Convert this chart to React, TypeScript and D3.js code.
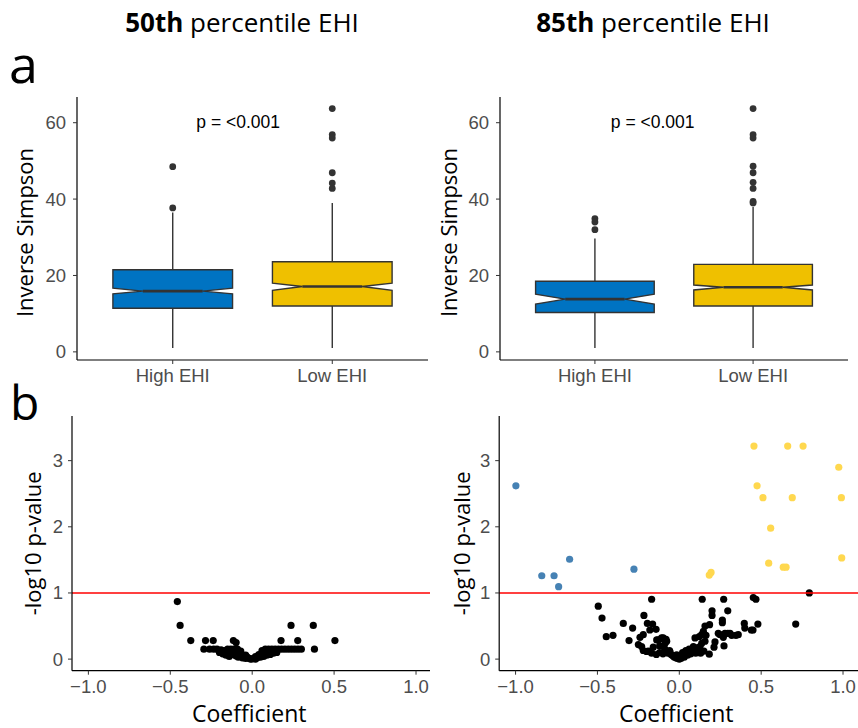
import * as d3 from "d3";

const GROUPS = ["High EHI", "Low EHI"];
const BOX_FILL = ["#0073C2", "#EFC000"];
const TITLES = ["50th", "85th"];

// [whiskerLow, lower, notchLow, median, notchHigh, upper, whiskerHigh]
const box50High = [1.0, 11.4, 15.2, 15.9, 16.7, 21.5, 36.5];
const box50Low = [1.0, 12.0, 16.1, 17.1, 18.0, 23.6, 39.0];
const box85High = [1.0, 10.3, 12.5, 13.8, 15.1, 18.5, 29.7];
const box85Low = [1.0, 12.0, 16.2, 16.9, 17.5, 22.9, 38.0];

const out50High = [48.5, 37.7];
const out50Low = [63.7, 56.9, 56.0, 46.9, 44.2, 42.8];
const out85High = [34.9, 34.0, 32.0];
const out85Low = [63.7, 56.9, 56.0, 48.6, 46.9, 44.4, 42.8, 39.4, 39.0];

const BOX_Y_TICKS = [0, 20, 40, 60];
const VOLC_Y_TICKS = [0, 1, 2, 3];
const VOLC_X_TICKS = [-1, -0.5, 0, 0.5, 1];
const SIG_LINE = 1;

// coefficient, -log10 p
const volc50 = [
  [-0.457, 0.87], [-0.44, 0.51], [-0.375, 0.28], [-0.285, 0.28], [-0.238, 0.28], [-0.115, 0.28], [-0.098, 0.25],
  [-0.295, 0.15], [-0.26, 0.15], [-0.235, 0.15], [-0.215, 0.15], [-0.19, 0.14], [-0.17, 0.13], [-0.15, 0.15],
  [-0.13, 0.15], [-0.11, 0.15], [-0.09, 0.15], [-0.07, 0.12], [-0.2, 0.1], [-0.18, 0.08], [-0.16, 0.06],
  [-0.14, 0.04], [-0.12, 0.07], [-0.1, 0.05], [-0.085, 0.03], [-0.07, 0.06], [-0.06, 0.02], [-0.05, 0.04],
  [-0.04, 0.01], [-0.03, 0.03], [-0.02, 0.01], [-0.01, 0.0], [0.0, 0.005], [0.01, 0.01], [0.02, 0.0],
  [0.03, 0.02], [0.04, 0.04], [0.05, 0.03], [0.06, 0.06], [0.07, 0.04], [0.08, 0.08], [0.09, 0.06],
  [0.1, 0.1], [0.11, 0.07], [0.12, 0.12], [0.13, 0.09], [0.14, 0.12], [0.15, 0.1], [0.06, 0.13],
  [0.08, 0.15], [0.1, 0.15], [0.12, 0.15], [0.14, 0.15], [0.16, 0.15], [0.18, 0.15], [0.2, 0.15],
  [0.22, 0.15], [0.24, 0.15], [0.26, 0.15], [0.28, 0.15], [0.3, 0.15], [0.176, 0.28], [0.278, 0.28],
  [0.505, 0.28], [0.237, 0.51], [0.373, 0.51], [0.38, 0.15], [-0.165, 0.1], [-0.145, 0.11],
  [-0.125, 0.09], [-0.105, 0.1], [-0.08, 0.09], [-0.04, 0.06], [0.02, 0.04], [0.04, 0.07], [0.07, 0.1],
];

const volc85 = [
  [0.794, 1.0], [0.711, 0.53], [0.48, 0.53], [0.452, 0.93], [0.468, 0.905], [0.271, 0.905], [0.14, 0.905],
  [-0.169, 0.905], [-0.495, 0.8], [-0.472, 0.62], [0.296, 0.73], [0.2, 0.73], [0.2, 0.66], [0.397, 0.54],
  [0.44, 0.44], [0.4, 0.47], [0.45, 0.44], [-0.342, 0.54], [-0.285, 0.47], [-0.216, 0.66], [-0.195, 0.54],
  [-0.163, 0.53], [-0.142, 0.45], [-0.18, 0.44], [-0.446, 0.34], [-0.405, 0.36], [-0.307, 0.28],
  [-0.24, 0.33], [-0.22, 0.37], [-0.25, 0.22], [-0.23, 0.19], [-0.22, 0.13], [-0.19, 0.12], [-0.159, 0.18],
  [-0.138, 0.29], [-0.104, 0.31], [-0.081, 0.3], [-0.128, 0.29], [-0.098, 0.32], [-0.077, 0.27],
  [-0.108, 0.32], [-0.087, 0.24], [0.147, 0.42], [0.157, 0.5], [0.185, 0.52], [0.163, 0.36], [0.263, 0.59],
  [0.263, 0.55], [0.238, 0.39], [0.269, 0.33], [0.296, 0.39], [0.32, 0.36], [0.346, 0.36], [0.36, 0.37],
  [0.249, 0.37], [0.279, 0.39], [0.31, 0.39], [0.273, 0.2], [0.212, 0.18], [0.218, 0.26], [0.183, 0.075],
  [0.086, 0.19], [0.106, 0.17], [0.126, 0.19], [0.096, 0.32], [0.122, 0.34], [0.137, 0.37], [0.137, 0.24],
  [0.157, 0.27], [0.02, 0.1], [0.04, 0.13], [0.06, 0.15], [0.1, 0.09], [0.13, 0.09], [-0.06, 0.13],
  [-0.09, 0.16], [-0.12, 0.2], [-0.1, 0.08], [-0.14, 0.07], [-0.057, 0.115], [-0.016, 0.065], [0.015, 0.04],
  [0.045, 0.09], [0.076, 0.115], [0.106, 0.14], [-0.04, 0.05], [-0.03, 0.03], [-0.02, 0.02], [-0.01, 0.01],
  [0.0, 0.0], [0.01, 0.01], [0.03, 0.03], [0.05, 0.06], [0.07, 0.08], [-0.07, 0.09], [-0.05, 0.07],
  [0.06, 0.1], [0.09, 0.12], [-0.2, 0.115], [-0.169, 0.09], [-0.12, 0.1], [0.12, 0.1], [0.15, 0.12],
];
const volc85Down = [
  [-0.998, 2.62], [-0.84, 1.26], [-0.765, 1.26], [-0.737, 1.095], [-0.67, 1.51], [-0.277, 1.36],
];
const volc85Up = [
  [0.456, 3.22], [0.662, 3.22], [0.756, 3.22], [0.974, 2.9], [0.475, 2.62], [0.511, 2.44], [0.69, 2.44],
  [0.99, 2.44], [0.558, 1.98], [0.992, 1.53], [0.546, 1.45], [0.635, 1.39], [0.652, 1.39], [0.183, 1.27],
  [0.194, 1.31],
];

const TICK_FONT = "'Liberation Sans', Arial, sans-serif";
const LABEL_FONT = "'Open Sans', 'Noto Sans', sans-serif";
const fmtX = (v: number) => v.toFixed(1).replace("-", "\u2212");

const BoxPanel = ({ left, right, top, bottom, stats, outliers, pX, labelX }: any) => {
  const y = d3.scaleLinear().domain([-2.13, 66.73]).range([bottom, top]);
  const x = d3.scalePoint().domain(GROUPS).range([left, right]).padding(0.6);
  const hw = (x.step() * 0.75) / 2;

  return (
    <g>
      {GROUPS.map((g, i) => {
        const [wl, lo, nl, med, nh, up, wh] = stats[i];
        const cx = x(g)!;
        const x0 = cx - hw;
        const x1 = cx + hw;
        const inset = hw / 2;
        const path = d3.path();
        path.moveTo(x0, y(up));
        path.lineTo(x1, y(up));
        path.lineTo(x1, y(nh));
        path.lineTo(x1 - inset, y(med));
        path.lineTo(x1, y(nl));
        path.lineTo(x1, y(lo));
        path.lineTo(x0, y(lo));
        path.lineTo(x0, y(nl));
        path.lineTo(x0 + inset, y(med));
        path.lineTo(x0, y(nh));
        path.closePath();
        return (
          <g key={g}>
            <line x1={cx} x2={cx} y1={y(up)} y2={y(wh)} stroke="#333" strokeWidth={1.4} />
            <line x1={cx} x2={cx} y1={y(lo)} y2={y(wl)} stroke="#333" strokeWidth={1.4} />
            <path d={path.toString()} fill={BOX_FILL[i]} stroke="#333" strokeWidth={1.4} />
            <line x1={x0 + inset} x2={x1 - inset} y1={y(med)} y2={y(med)} stroke="#333" strokeWidth={2.6} />
            {outliers[i].map((v: number, j: number) => (
              <circle key={j} cx={cx} cy={y(v)} r={3.4} fill="#333" />
            ))}
          </g>
        );
      })}
      {/* axes */}
      <line x1={left} x2={left} y1={top} y2={bottom} stroke="black" strokeWidth={1.2} />
      <line x1={left} x2={right} y1={bottom} y2={bottom} stroke="black" strokeWidth={1.2} />
      {BOX_Y_TICKS.map((t) => (
        <g key={t}>
          <line x1={left - 4} x2={left} y1={y(t)} y2={y(t)} stroke="#333" />
          <text x={left - 11} y={y(t)} dy="0.35em" textAnchor="end" fontSize={18.5}
            fontFamily={TICK_FONT} fill="#4D4D4D">{t}</text>
        </g>
      ))}
      {GROUPS.map((g) => (
        <g key={g}>
          <line x1={x(g)} x2={x(g)} y1={bottom} y2={bottom + 4} stroke="#333" />
          <text x={x(g)} y={bottom + 21.5} textAnchor="middle" fontSize={18.5}
            fontFamily={TICK_FONT} fill="#4D4D4D">{g}</text>
        </g>
      ))}
      <text x={left + (pX - 0.4) * x.step()} y={y(58.7)} textAnchor="middle" fontSize={17.5}
        fontFamily={TICK_FONT} fill="black">p = &lt;0.001</text>
      <text transform={`translate(${labelX},${(top + bottom) / 2 + 4}) rotate(-90)`} textAnchor="middle"
        fontSize={22} fontFamily={LABEL_FONT} fill="black">Inverse Simpson</text>
    </g>
  );
};

const VolcanoPanel = ({ left, right, clipRight, top, bottom, points, down, up, labelX }: any) => {
  const x = d3.scaleLinear().domain([-1.1, 1.1]).range([left, right]);
  const y = d3.scaleLinear().domain([-0.175, 3.675]).range([bottom, top]);
  const axisRight = Math.min(right, clipRight);
  const dots = (arr: number[][], color: string) =>
    arr.map(([cx, cy], i) => <circle key={color + i} cx={x(cx)} cy={y(cy)} r={3.6} fill={color} />);

  return (
    <g>
      {dots(points, "black")}
      {dots(down, "#4682B4")}
      {dots(up, "#FFD84F")}
      <line x1={left} x2={axisRight} y1={y(SIG_LINE)} y2={y(SIG_LINE)} stroke="#FF0000" strokeWidth={1.6} />
      <line x1={left} x2={left} y1={top} y2={bottom} stroke="black" strokeWidth={1.2} />
      <line x1={left} x2={axisRight} y1={bottom} y2={bottom} stroke="black" strokeWidth={1.2} />
      {VOLC_Y_TICKS.map((t) => (
        <g key={t}>
          <line x1={left - 4} x2={left} y1={y(t)} y2={y(t)} stroke="#333" />
          <text x={left - 9} y={y(t)} dy="0.35em" textAnchor="end" fontSize={18.5}
            fontFamily={TICK_FONT} fill="#4D4D4D">{t}</text>
        </g>
      ))}
      {VOLC_X_TICKS.map((t) => (
        <g key={t}>
          <line x1={x(t)} x2={x(t)} y1={bottom} y2={bottom + 4} stroke="#333" />
          <text x={x(t)} y={bottom + 22.5} textAnchor="middle" fontSize={18.5}
            fontFamily={TICK_FONT} fill="#4D4D4D">{fmtX(t)}</text>
        </g>
      ))}
      <text x={x(0) - 3} y={722} textAnchor="middle" fontSize={23} fontFamily={LABEL_FONT}
        fill="black">Coefficient</text>
      <text transform={`translate(${labelX},${(top + bottom) / 2}) rotate(-90)`} textAnchor="middle"
        fontSize={22} fontFamily={LABEL_FONT} fill="black">-log10 p-value</text>
    </g>
  );
};

export default function App() {
  const titleX = [242, 653];
  return (
    <svg width={858} height={728} style={{ position: "absolute", left: 0, top: 0, background: "white" }}>
      {TITLES.map((t, i) => (
        <text key={t} x={titleX[i]} y={31.5} textAnchor="middle" fontSize={26} fontFamily={LABEL_FONT}
          fill="black">
          <tspan fontWeight="bold">{t}</tspan> percentile EHI
        </text>
      ))}
      <text x={9} y={83} fontSize={52} fontFamily={LABEL_FONT} fill="black">a</text>
      <text x={10} y={420} fontSize={48} fontFamily={LABEL_FONT} fill="black">b</text>

      <BoxPanel left={77} right={428} top={97} bottom={360} stats={[box50High, box50Low]}
        outliers={[out50High, out50Low]} pX={1.41} labelX={33} />
      <BoxPanel left={500} right={848} top={97} bottom={360} stats={[box85High, box85Low]}
        outliers={[out85High, out85Low]} pX={1.365} labelX={456.5} />

      <VolcanoPanel left={72} right={432.4} clipRight={430} top={416} bottom={670.7}
        points={volc50} down={[]} up={[]} labelX={40.5} />
      <VolcanoPanel left={499.2} right={859.4} clipRight={858} top={416} bottom={670.7}
        points={volc85} down={volc85Down} up={volc85Up} labelX={469.5} />
    </svg>
  );
}
